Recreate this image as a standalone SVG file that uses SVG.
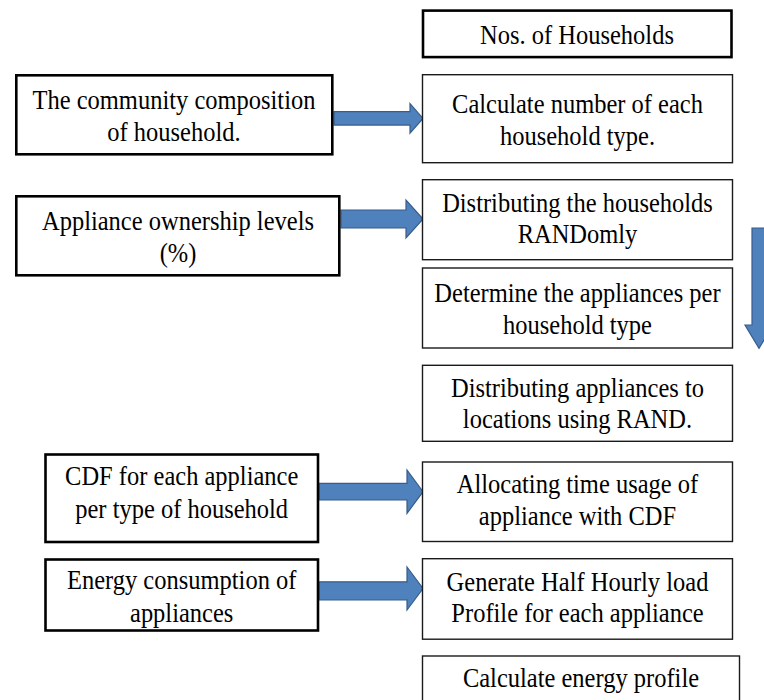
<svg xmlns="http://www.w3.org/2000/svg" width="764" height="700" viewBox="0 0 764 700" font-family="'Liberation Serif', 'Times New Roman', Times, serif">
<style>
.thick{fill:#fff;stroke:#000;stroke-width:2.6}
.thin{fill:#fff;stroke:#1a1a1a;stroke-width:1.4}
.t{font-family:'Liberation Serif','Times New Roman',Times,serif;font-size:24.5px;fill:#000;text-anchor:middle}
.arr{fill:#4F81BD;stroke:#385D8A;stroke-width:1.2}
</style>
<rect width="764" height="700" fill="#fff"/>
<g id="connectors">
<polygon class="arr" points="334,111.7 410,111.7 410,103.7 423,118.4 410,133.1 410,125.1 334,125.1"/>
<polygon class="arr" points="341,210 406,210 406,200 423,219 406,238 406,228 341,228"/>
<polygon class="arr" points="319,483.4 407,483.4 407,470 423,491.7 407,513.4 407,500 319,500"/>
<polygon class="arr" points="319,581.8 407,581.8 407,567 423,588.5 407,610 407,599.8 319,599.8"/>
<polygon class="arr" points="752,228 766,228 766,325 773,325 759,348.3 745,325 752,325"/>
</g>
<g id="nos-households">
<rect class="thick" x="423" y="10.6" width="308.5" height="46.5"/>
<text class="t" transform="scale(1,1.12)" x="577" y="39.29">Nos. of Households</text>
</g>
<g id="community">
<rect class="thick" x="16.3" y="75.3" width="316" height="79"/>
<text class="t" transform="scale(1,1.12)" x="174" y="97.32">The community composition</text>
<text class="t" transform="scale(1,1.12)" x="174" y="125.63">of household.</text>
</g>
<g id="calc-number">
<rect class="thin" x="422.5" y="74.7" width="310" height="88"/>
<text class="t" transform="scale(1,1.12)" x="577.5" y="101.16">Calculate number of each</text>
<text class="t" transform="scale(1,1.12)" x="577.5" y="129.46">household type.</text>
</g>
<g id="appliance-ownership">
<rect class="thick" x="16.3" y="196.3" width="323" height="79"/>
<text class="t" transform="scale(1,1.12)" x="178" y="205.36">Appliance ownership levels</text>
<text class="t" transform="scale(1,1.12)" x="178" y="233.66">(%)</text>
</g>
<g id="distrib-households">
<rect class="thin" x="422.5" y="179.7" width="310" height="80"/>
<text class="t" transform="scale(1,1.12)" x="577.5" y="189.02">Distributing the households</text>
<text class="t" transform="scale(1,1.12)" x="577.5" y="217.41">RANDomly</text>
</g>
<g id="determine">
<rect class="thin" x="422.5" y="268" width="310" height="80"/>
<text class="t" transform="scale(1,1.12)" x="577.5" y="269.38">Determine the appliances per</text>
<text class="t" transform="scale(1,1.12)" x="577.5" y="298.21">household type</text>
</g>
<g id="distrib-appliances">
<rect class="thin" x="422.5" y="365.3" width="310" height="76"/>
<text class="t" transform="scale(1,1.12)" x="577.5" y="354.91">Distributing appliances to</text>
<text class="t" transform="scale(1,1.12)" x="577.5" y="382.59">locations using RAND.</text>
</g>
<g id="cdf">
<rect class="thick" x="45.5" y="454.5" width="272.5" height="87.5"/>
<text class="t" transform="scale(1,1.12)" x="181.7" y="433.04">CDF for each appliance</text>
<text class="t" transform="scale(1,1.12)" x="181.7" y="462.77">per type of household</text>
</g>
<g id="allocating">
<rect class="thin" x="422.5" y="462" width="310" height="79.5"/>
<text class="t" transform="scale(1,1.12)" x="577.5" y="440.45">Allocating time usage of</text>
<text class="t" transform="scale(1,1.12)" x="577.5" y="468.75">appliance with CDF</text>
</g>
<g id="energy-consumption">
<rect class="thick" x="45.5" y="559.5" width="272.5" height="71"/>
<text class="t" transform="scale(1,1.12)" x="181.7" y="526.16">Energy consumption of</text>
<text class="t" transform="scale(1,1.12)" x="181.7" y="555.09">appliances</text>
</g>
<g id="generate">
<rect class="thin" x="422.5" y="558.7" width="310" height="80.5"/>
<text class="t" transform="scale(1,1.12)" x="577.5" y="527.41">Generate Half Hourly load</text>
<text class="t" transform="scale(1,1.12)" x="577.5" y="555.09">Profile for each appliance</text>
</g>
<g id="calc-energy">
<rect class="thin" x="422.5" y="656" width="317" height="60"/>
<text class="t" transform="scale(1,1.12)" x="581" y="613.13">Calculate energy profile</text>
</g>
</svg>
